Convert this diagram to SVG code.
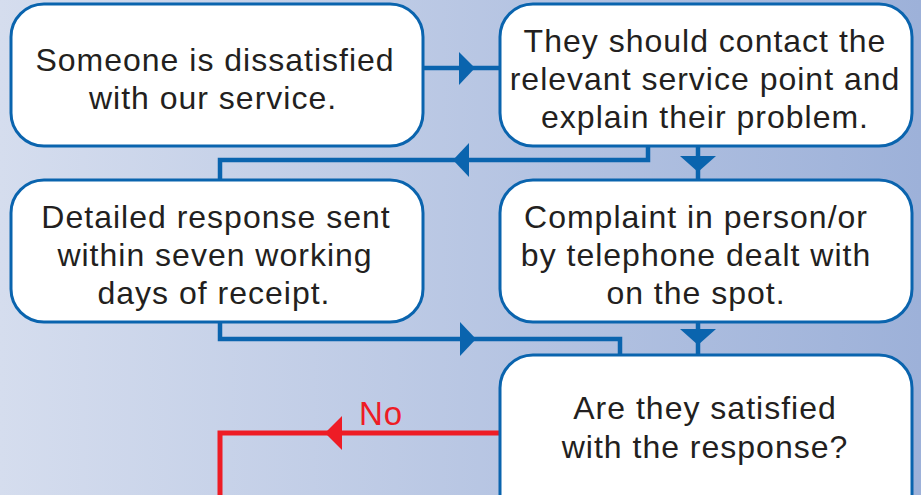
<svg xmlns="http://www.w3.org/2000/svg" width="921" height="495" viewBox="0 0 921 495">
<defs>
<linearGradient id="bg" x1="0" y1="0" x2="1" y2="0">
<stop offset="0" stop-color="#d5ddee"/>
<stop offset="1" stop-color="#9db1d9"/>
</linearGradient>
<style>
.box{fill:#fff;stroke:#0a64ae;stroke-width:3}
.t{font-family:"Liberation Sans",Arial,sans-serif;font-size:32px;fill:#231f20;text-anchor:middle;letter-spacing:1px}
.c{fill:none;stroke:#0a64ae;stroke-width:4.5}
.ah{fill:#0a64ae}
.r{fill:none;stroke:#ee1c25;stroke-width:5}
.rh{fill:#ee1c25}
.no{font-family:"Liberation Sans",Arial,sans-serif;font-size:33px;fill:#ee1c25;letter-spacing:1px}
</style>
</defs>
<rect width="921" height="495" fill="url(#bg)"/>
<g id="connectors">
<path class="c" d="M423 68H500"/>
<polygon class="ah" points="475,68 459,52 459,85"/>
<path class="c" d="M648 146V160H220V180"/>
<polygon class="ah" points="453,160 469,143 469,177"/>
<path class="c" d="M698 146V180"/>
<polygon class="ah" points="698,172 680,156 716,156"/>
<path class="c" d="M220 322V339H620V355"/>
<polygon class="ah" points="476,339 460,322 460,356"/>
<path class="c" d="M698 322V355"/>
<polygon class="ah" points="698,345 680,329 716,329"/>
<path class="r" d="M500 433H220V495"/>
<polygon class="rh" points="325,433 342,416 342,450"/>
<text class="no" x="359" y="425">No</text>
</g>
<g id="n1">
<rect class="box" x="11" y="4" width="412" height="142" rx="33"/>
<text class="t" x="215" y="71">Someone is dissatisfied</text>
<text class="t" x="213" y="109">with our service.</text>
</g>
<g id="n2">
<rect class="box" x="500" y="4" width="412" height="142" rx="33"/>
<text class="t" x="705" y="52">They should contact the</text>
<text class="t" x="705" y="90">relevant service point and</text>
<text class="t" x="705" y="128">explain their problem.</text>
</g>
<g id="n3">
<rect class="box" x="11" y="180" width="412" height="142" rx="33"/>
<text class="t" x="216" y="228">Detailed response sent</text>
<text class="t" x="215" y="266">within seven working</text>
<text class="t" x="214" y="304">days of receipt.</text>
</g>
<g id="n4">
<rect class="box" x="500" y="180" width="412" height="142" rx="33"/>
<text class="t" x="696" y="228">Complaint in person/or</text>
<text class="t" x="696" y="266">by telephone dealt with</text>
<text class="t" x="696" y="304">on the spot.</text>
</g>
<g id="n5">
<rect class="box" x="500" y="355" width="412" height="180" rx="33"/>
<text class="t" x="705" y="419">Are they satisfied</text>
<text class="t" x="705" y="458">with the response?</text>
</g>
</svg>
